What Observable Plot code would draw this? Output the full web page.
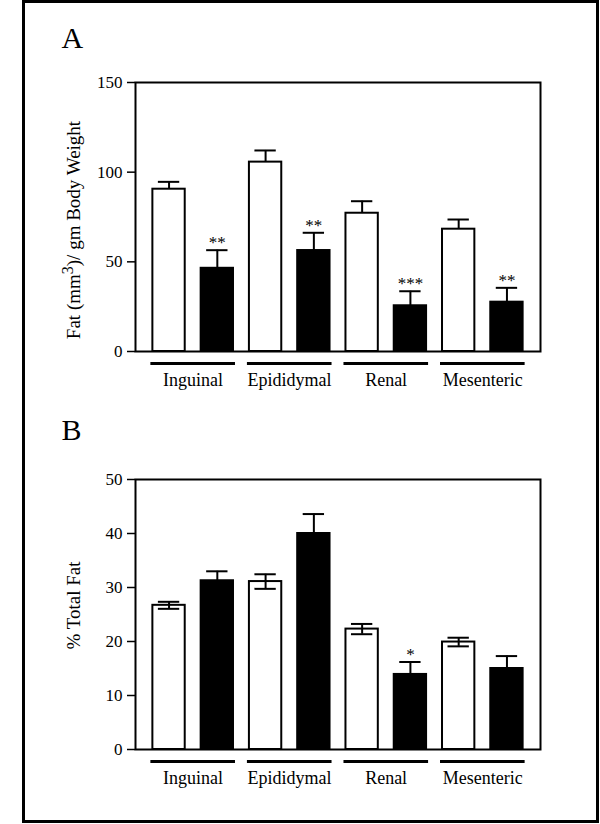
<!DOCTYPE html>
<html><head><meta charset="utf-8">
<script src="https://cdn.jsdelivr.net/npm/d3@7"></script>
<script src="https://cdn.jsdelivr.net/npm/@observablehq/plot@0.6"></script>
<style>
html,body{margin:0;padding:0;background:#fff;}
#page{position:relative;width:600px;height:824px;overflow:hidden;font-family:"Liberation Serif","Times New Roman",serif;}
#border{position:absolute;left:22px;top:0;width:577px;height:823px;border:3px solid #000;box-sizing:border-box;z-index:10;pointer-events:none;}
.panel{position:absolute;left:0;}
</style></head><body>
<div id="page"><div id="border"></div><div id="pA" class="panel" style="top:0"></div><div id="pB" class="panel" style="top:410px"></div></div>
<script>
// Categories
const regions = ["Inguinal", "Epididymal", "Renal", "Mesenteric"];

// Panel A: Fat (mm³)/ gm Body Weight
const controlA = [90.5, 105.6, 77.1, 68.2];
const controlSeA = [4.1, 6.5, 6.7, 5.4];
const treatedA = [46.4, 56.3, 25.5, 27.5];
const treatedSeA = [10.1, 9.9, 8.1, 8.0];
const sigA = ["**", "**", "***", "**"];
const ticksA = [0, 50, 100, 150];
const titleA = "Fat (mm³)/ gm Body Weight";

// Panel B: % Total Fat
const controlB = [26.7, 31.1, 22.3, 19.9];
const controlSeB = [0.65, 1.35, 0.95, 0.8];
const treatedB = [31.25, 40.0, 13.9, 15.0];
const treatedSeB = [1.75, 3.6, 2.3, 2.3];
const sigB = ["", "", "*", ""];
const ticksB = [0, 10, 20, 30, 40, 50];
const titleB = "% Total Fat";

const keys = regions.flatMap(r => [r + "|C", r + "|T"]);

function makePanel({ctrl, ctrlSe, trt, trtSe, sig, ticks, title, letter, height, marginTop, marginBottom, lower, titleDy, letterDy}) {
  const rows = regions.flatMap((r, i) => [
    {key: r + "|C", region: r, group: "C", mean: ctrl[i], se: ctrlSe[i], sig: ""},
    {key: r + "|T", region: r, group: "T", mean: trt[i], se: trtSe[i], sig: sig[i]}
  ]);
  const marks = [
    Plot.frame({stroke: "black", strokeWidth: 2}),
    Plot.axisY({ticks, tickSize: 8, tickPadding: 5, strokeWidth: 1.5, fontSize: 17, label: null, tickFormat: d => String(d)}),
    Plot.barY(rows, {x: "key", y: "mean", fill: d => d.group === "C" ? "white" : "black", stroke: "black", strokeWidth: 2}),
    Plot.ruleX(rows, {x: "key", y1: d => lower ? d.mean - d.se : d.mean, y2: d => d.mean + d.se, stroke: "black", strokeWidth: 2}),
    Plot.tickY(rows, {x: "key", y: d => d.mean + d.se, insetLeft: 5.5, insetRight: 5.5, stroke: "black", strokeWidth: 2})
  ];
  if (lower) marks.push(Plot.tickY(rows.filter(d => d.group === "C"), {x: "key", y: d => d.mean - d.se, insetLeft: 5.5, insetRight: 5.5, stroke: "black", strokeWidth: 2}));
  marks.push(
    Plot.text(rows.filter(d => d.sig), {x: "key", y: d => d.mean + d.se, text: "sig", lineAnchor: "bottom", dy: -2, fontSize: 17, fill: "black"}),
    Plot.ruleY(regions, {y: () => 0, x1: r => r + "|C", x2: r => r + "|T", dy: 12, insetLeft: -2, insetRight: -2, stroke: "black", strokeWidth: 3}),
    Plot.text(regions, {x: r => r + "|C", y: () => 0, text: d => d, dx: 24, dy: 29, fontSize: 18, fill: "black"}),
    Plot.text([title], {frameAnchor: "left", textAnchor: "middle", lineAnchor: "middle", rotate: -90, text: d => d, dx: -62, dy: titleDy, fontSize: 19, fill: "black"}),
    Plot.text([letter], {frameAnchor: "top-left", textAnchor: "start", lineAnchor: "middle", text: d => d, dx: -74, dy: letterDy, fontSize: 30, fill: "black"})
  );
  return Plot.plot({
    width: 600,
    height,
    marginLeft: 135,
    marginRight: 60,
    marginTop,
    marginBottom,
    style: {fontFamily: "'Liberation Serif','Times New Roman',serif", fontSize: "17px", color: "black", background: "transparent", overflow: "visible"},
    x: {domain: keys, paddingInner: 0.33, paddingOuter: 0.36, round: false, axis: null},
    y: {domain: [0, ticks[ticks.length - 1]], axis: null},
    marks
  });
}

function superscriptify(svg, str) {
  const ns = "http://www.w3.org/2000/svg";
  for (const t of svg.querySelectorAll("text")) {
    if (t.textContent === str && str.includes("³")) {
      const [a, b] = str.split("³");
      t.textContent = "";
      const s1 = document.createElementNS(ns, "tspan"); s1.textContent = a;
      const s2 = document.createElementNS(ns, "tspan"); s2.textContent = "3";
      s2.setAttribute("dy", "-7"); s2.setAttribute("font-size", "16");
      const s3 = document.createElementNS(ns, "tspan"); s3.textContent = b; s3.setAttribute("dy", "7");
      t.append(s1, s2, s3);
    }
  }
}

const svgA = makePanel({ctrl: controlA, ctrlSe: controlSeA, trt: treatedA, trtSe: treatedSeA, sig: sigA, ticks: ticksA, title: titleA, letter: "A",
  height: 410, marginTop: 82, marginBottom: 59, lower: false, titleDy: 13, letterDy: -44});
superscriptify(svgA, titleA);
document.getElementById("pA").append(svgA);

const svgB = makePanel({ctrl: controlB, ctrlSe: controlSeB, trt: treatedB, trtSe: treatedSeB, sig: sigB, ticks: ticksB, title: titleB, letter: "B",
  height: 414, marginTop: 69, marginBottom: 75, lower: true, titleDy: -9, letterDy: -49});
document.getElementById("pB").append(svgB);
</script>
</body></html>
